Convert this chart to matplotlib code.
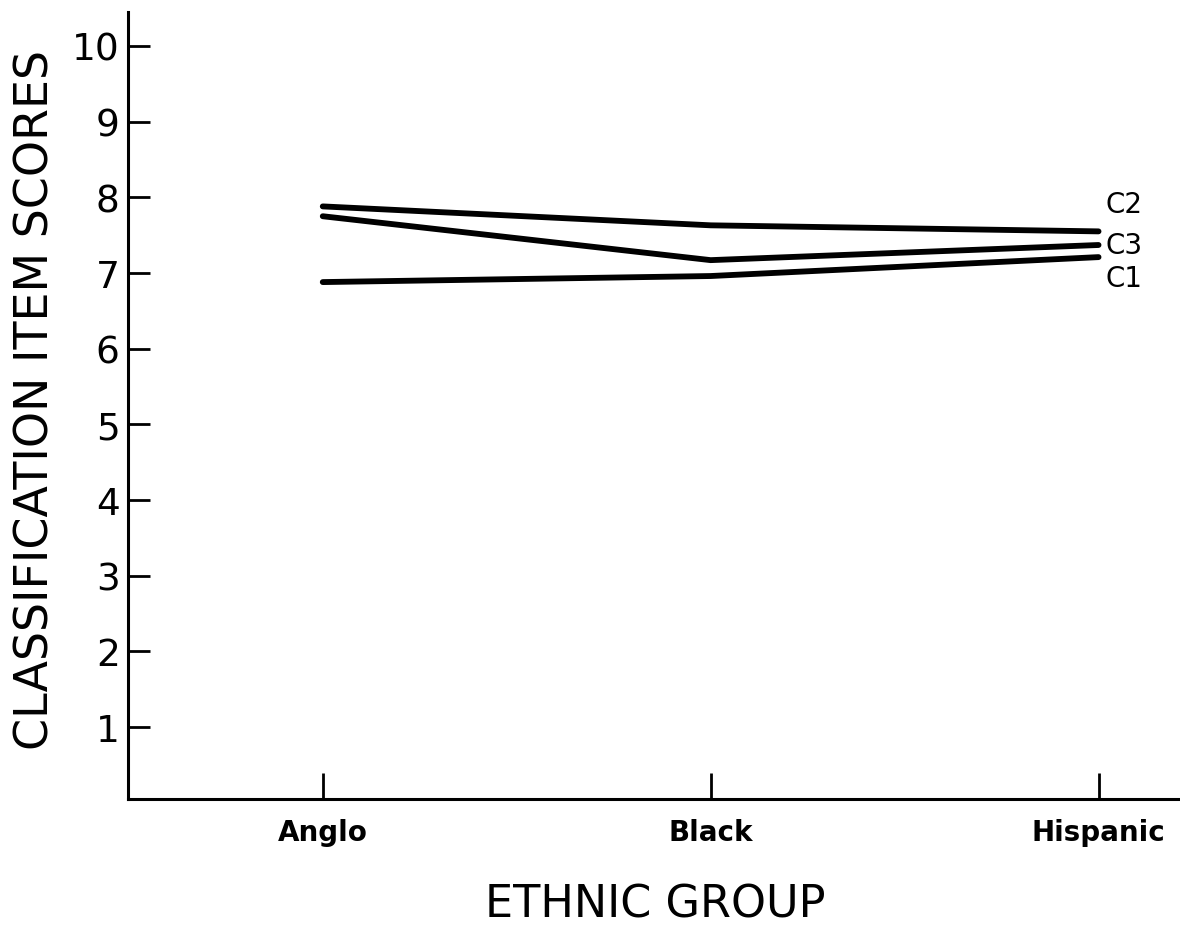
import matplotlib
matplotlib.use("Agg")
import matplotlib.pyplot as plt

groups = ["Anglo", "Black", "Hispanic"]
series_names = ["C2", "C3", "C1"]
c2 = [7.88, 7.63, 7.55]
c3 = [7.75, 7.17, 7.37]
c1 = [6.88, 6.96, 7.21]
yticks = [1, 2, 3, 4, 5, 6, 7, 8, 9, 10]

plt.rcParams['font.family'] = ['DejaVu Sans']

fig = plt.figure(figsize=(11.8, 9.29), dpi=100)
ax = fig.add_axes([0.1085, 0.1389, 0.8915, 0.8472])

x = list(range(len(groups)))
label_offsets = [(5, 20), (5, 0), (5, -15)]
for vals, name, off in zip([c2, c3, c1], series_names, label_offsets):
    ax.plot(x, vals, color='black', lw=4.2, solid_capstyle='round')
    ax.annotate(name, xy=(x[-1], vals[-1]), xytext=off, textcoords='offset points',
                ha='left', va='center', fontsize=20)

ax.set_xlim(-0.502, 2.21)
ax.set_ylim(0.05, 10.45)
ax.set_yticks(yticks)
ax.set_yticklabels([str(t) for t in yticks])
ax.set_xticks(x)
ax.set_xticklabels(groups, fontweight='bold', fontsize=20)

for s in ['top', 'right']:
    ax.spines[s].set_visible(False)
for s in ['left', 'bottom']:
    ax.spines[s].set_linewidth(2.2)

ax.tick_params(axis='y', direction='in', length=16, width=2, labelsize=27, pad=6)
ax.tick_params(axis='x', direction='in', length=19, width=2, pad=14)

fig.text(36 / 1180, 1 - 400 / 929, "CLASSIFICATION ITEM SCORES", rotation=90,
         ha='center', va='center', fontsize=33)
fig.text(655 / 1180, 1 - 905 / 929, "ETHNIC GROUP", ha='center', va='center', fontsize=32)

fig.savefig("out.png", dpi=100, facecolor='white')
